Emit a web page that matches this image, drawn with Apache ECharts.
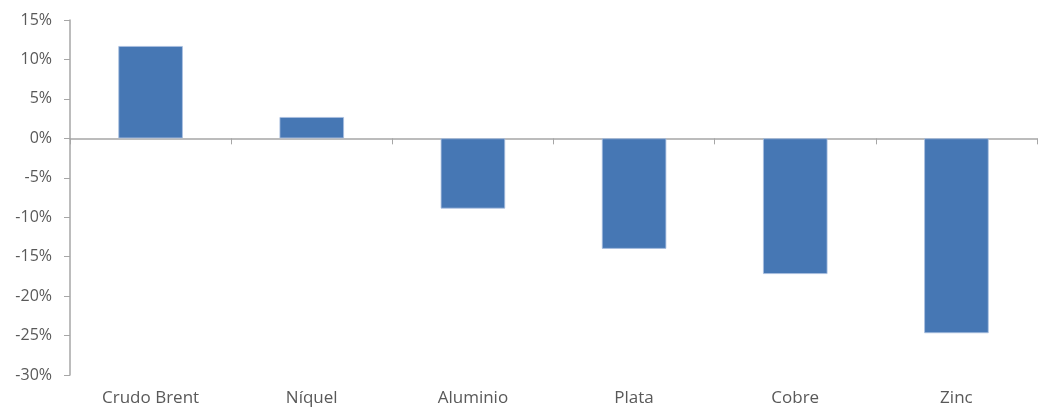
<!DOCTYPE html>
<html>
<head>
<meta charset="utf-8">
<script src="https://cdn.jsdelivr.net/npm/echarts@6/dist/echarts.min.js"></script>
<style>
  html, body { margin: 0; padding: 0; background: #fff; }
  #chart { width: 1044px; height: 410px; }
</style>
</head>
<body>
<div id="chart"></div>
<script>
// variación (%) por materia prima
const categories = ["Crudo Brent", "Níquel", "Aluminio", "Plata", "Cobre", "Zinc"];
const values = [11.7, 2.7, -8.9, -14.0, -17.2, -24.7];

const axisColor = "#a6a6a6";
const textColor = "#595959";
const font = "'Open Sans', sans-serif";

const chart = echarts.init(document.getElementById("chart"));
chart.setOption({
  animation: false,
  grid: { left: 70, right: 7, top: 20, bottom: 35 },
  xAxis: [
    {
      // línea del eje en 0%
      type: "category",
      data: categories,
      axisLine: { onZero: true, lineStyle: { color: axisColor, width: 1.5 } },
      axisTick: { show: true, length: 6, lineStyle: { color: axisColor } },
      axisLabel: { show: false }
    },
    {
      // etiquetas abajo
      type: "category",
      data: categories,
      position: "bottom",
      axisLine: { show: false, onZero: false },
      axisTick: { show: false },
      axisLabel: { color: textColor, fontSize: 17, fontFamily: font, margin: 15 }
    }
  ],
  yAxis: {
    type: "value",
    min: -30,
    max: 15,
    interval: 5,
    axisLine: { show: true, lineStyle: { color: axisColor, width: 1.5 } },
    axisTick: { show: true, length: 6, lineStyle: { color: axisColor } },
    splitLine: { show: false },
    axisLabel: {
      color: textColor,
      fontSize: 16,
      fontFamily: font,
      margin: 18,
      formatter: "{value}%"
    }
  },
  series: [
    {
      type: "bar",
      xAxisIndex: 0,
      data: values,
      barCategoryGap: "60%",
      itemStyle: { color: "#4677b4", borderColor: "#a9bfdf", borderWidth: 0.8 }
    }
  ]
});
</script>
</body>
</html>
